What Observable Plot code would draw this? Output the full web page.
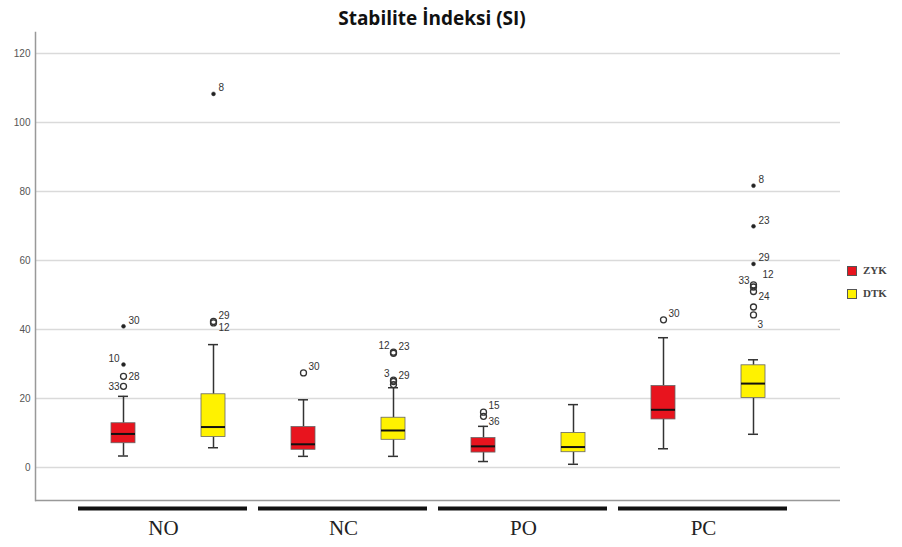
<!DOCTYPE html>
<html><head><meta charset="utf-8">
<script src="https://cdn.jsdelivr.net/npm/d3@7"></script>
<script src="https://cdn.jsdelivr.net/npm/@observablehq/plot@0.6"></script>
<style>
body{margin:0;background:#fff;}
#wrap{position:relative;width:902px;height:547px;overflow:hidden;}
#title{position:absolute;left:0;top:0;width:864px;text-align:center;font:bold 19px "Open Sans","Liberation Sans",Arial,sans-serif;line-height:36px;color:#111;}
#chart{position:absolute;left:0;top:30px;}
#legend{position:absolute;left:847px;top:259px;font:bold 11px "Liberation Serif",serif;color:#444;}
#legend div{display:flex;align-items:center;height:23px;line-height:23px;}
#legend span.sw{display:inline-block;width:8px;height:8px;border:1px solid #555;margin-right:6px;}
</style></head>
<body><div id="wrap"><div id="title">Stabilite İndeksi (SI)</div><div id="chart"></div><div id="legend"></div></div>
<script>
const groups = ["NO", "NC", "PO", "PC"];
const series = ["ZYK", "DTK"];
const seriesColors = ["#e8141e", "#fff200"];
const yTicks = [0, 20, 40, 60, 80, 100, 120];
const yDomain = [-9.6, 126.1];

// Box summaries, order: NO-ZYK, NO-DTK, NC-ZYK, NC-DTK, PO-ZYK, PO-DTK, PC-ZYK, PC-DTK
const whiskerLow  = [3.3, 5.7, 3.2, 3.2, 1.7, 0.9, 5.4, 9.6];
const q1          = [7.0, 8.8, 5.1, 8.0, 4.3, 4.4, 13.9, 20.1];
const median      = [9.7, 11.7, 6.7, 10.7, 6.1, 5.9, 16.7, 24.3];
const q3          = [12.8, 21.2, 11.7, 14.4, 8.5, 10.0, 23.6, 29.6];
const whiskerHigh = [20.6, 35.6, 19.6, 23.1, 11.9, 18.2, 37.6, 31.2];

// Outliers
const outlierGroup  = ["NO","NO","NO","NO","NO","NO","NO","NC","NC","NC","NC","NC","NC","PO","PO","PC","PC","PC","PC","PC","PC","PC","PC","PC"];
const outlierSeries = ["ZYK","ZYK","ZYK","ZYK","DTK","DTK","DTK","ZYK","DTK","DTK","DTK","DTK","DTK","ZYK","ZYK","ZYK","DTK","DTK","DTK","DTK","DTK","DTK","DTK","DTK"];
const outlierValue  = [40.9, 29.8, 26.4, 23.5, 108.3, 42.3, 41.9, 27.4, 33.4, 33.1, 25.3, 24.9, 24.0, 16.0, 14.8, 42.8, 81.7, 69.9, 59.0, 52.9, 52.3, 51.0, 46.5, 44.2];
const outlierExtreme= [true, true, false, false, true, false, false, false, false, false, false, false, false, false, false, false, true, true, true, false, false, false, false, false];
const outlierLabel  = ["30","10","28","33","8","29","12","30","12","23","3","29","","15","36","30","8","23","29","12","33","24","","3"];

// label placement (style only)
const labelPlace = ["ur","ul","r","l","ur","ur","lr","ur","ul","ur","ul","ur","r","ur","lr","ur","ur","ur","ur","ur2","ul","lr","r","br"];

const keys = groups.flatMap(g => series.map(s => g + "|" + s));
const boxes = keys.map((k, i) => ({
  key: k, group: k.split("|")[0], series: k.split("|")[1],
  lo: whiskerLow[i], q1: q1[i], med: median[i], q3: q3[i], hi: whiskerHigh[i]
}));
const outliers = outlierValue.map((v, i) => ({
  key: outlierGroup[i] + "|" + outlierSeries[i], value: v,
  extreme: outlierExtreme[i], label: outlierLabel[i], place: labelPlace[i]
}));

const placeOpts = {
  ur: {dx: 5, dy: -6, textAnchor: "start"},
  ur2: {dx: 9, dy: -10, textAnchor: "start"},
  r: {dx: 5, dy: 0, textAnchor: "start"},
  lr: {dx: 5, dy: 5, textAnchor: "start"},
  br: {dx: 4, dy: 10, textAnchor: "start"},
  ul: {dx: -4, dy: -6, textAnchor: "end"},
  l: {dx: -4, dy: 0, textAnchor: "end"}
};
const labelFont = {fontSize: 10, fontFamily: "Liberation Sans, Arial, sans-serif", fill: "#333"};
const labelMarks = Object.entries(placeOpts).map(([p, o]) =>
  Plot.text(outliers.filter(d => d.place === p && d.label), {x: "key", y: "value", text: "label", ...o, ...labelFont})
);

const chart = Plot.plot({
  width: 902,
  height: 517,
  marginTop: 2,
  marginBottom: 47,
  marginLeft: 35,
  marginRight: 62,
  style: {fontFamily: "Liberation Sans, Arial, sans-serif", fontSize: "10px", background: "transparent"},
  x: {type: "band", domain: keys, paddingInner: 0.735, paddingOuter: 0.816, axis: null},
  y: {domain: yDomain, axis: null},
  color: {domain: series, range: seriesColors},
  marks: [
    Plot.ruleY(yTicks, {stroke: "#dadada", strokeWidth: 1.5}),
    Plot.ruleY([yDomain[0]], {stroke: "#999", strokeWidth: 1.5}),
    Plot.frame({anchor: "left", stroke: "#999", strokeWidth: 1.5}),
    Plot.axisY(yTicks, {tickSize: 0, tickPadding: 5, fill: "#555", fontSize: 10}),
    Plot.ruleX(boxes, {x: "key", y1: "lo", y2: "q1", stroke: "#333", strokeWidth: 1.5}),
    Plot.ruleX(boxes, {x: "key", y1: "q3", y2: "hi", stroke: "#333", strokeWidth: 1.5}),
    Plot.tickY(boxes, {x: "key", y: "lo", stroke: "#333", strokeWidth: 1.5, insetLeft: 7, insetRight: 7}),
    Plot.tickY(boxes, {x: "key", y: "hi", stroke: "#333", strokeWidth: 1.5, insetLeft: 7, insetRight: 7}),
    Plot.barY(boxes, {x: "key", y1: "q1", y2: "q3", fill: "series", stroke: "#666", strokeWidth: 0.8}),
    Plot.tickY(boxes, {x: "key", y: "med", stroke: "#111", strokeWidth: 2}),
    Plot.dot(outliers.filter(d => !d.extreme), {x: "key", y: "value", r: 3, stroke: "#333", strokeWidth: 1.3, fill: "none"}),
    Plot.dot(outliers.filter(d => d.extreme), {x: "key", y: "value", r: 2, fill: "#222", stroke: "#444", strokeWidth: 0.5}),
    ...labelMarks,
    Plot.ruleY(groups, {x1: g => g + "|ZYK", x2: g => g + "|DTK", y: () => yDomain[0], dy: 8, stroke: "#111", strokeWidth: 4, insetLeft: -33, insetRight: -22}),
    Plot.text(groups, {x: g => g + "|ZYK", y: () => yDomain[0], text: d => d, dx: 40, dy: 28, fontSize: 21, fontFamily: "Liberation Serif, Times New Roman, serif", fill: "#222"})
  ]
});
document.getElementById("chart").appendChild(chart);

const legend = document.getElementById("legend");
series.forEach((s, i) => {
  const row = document.createElement("div");
  const sw = document.createElement("span");
  sw.className = "sw";
  sw.style.background = seriesColors[i];
  row.appendChild(sw);
  row.appendChild(document.createTextNode(s));
  legend.appendChild(row);
});
</script>
</body></html>
